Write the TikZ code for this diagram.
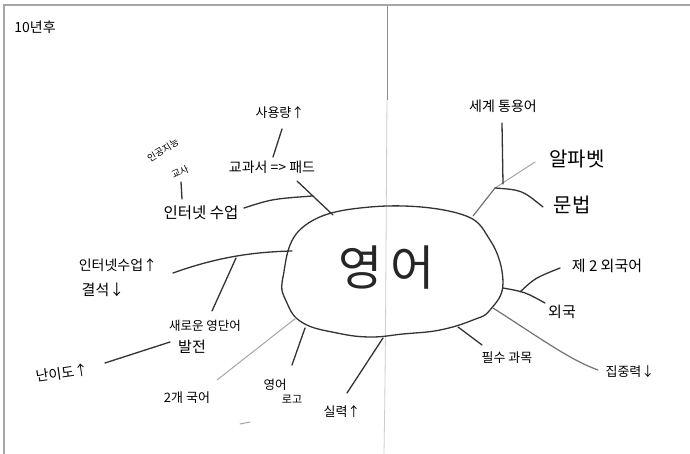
\documentclass[tikz,border=0pt]{standalone}
\usepackage{fontspec}
\setmainfont{Noto Sans CJK KR}
\usetikzlibrary{calc}
\begin{document}
\begin{tikzpicture}[x=1pt,y=-1pt,
  lab/.style={font=\fontsize{14}{16}\selectfont, inner sep=0pt, text=black},
  ink/.style={line width=1.3pt, draw=black!80, line cap=round},
  faint/.style={line width=1pt, draw=black!35, line cap=round},
  mid/.style={line width=1.2pt, draw=black!55, line cap=round},
]
\useasboundingbox (0,0) rectangle (690,454);
\fill[white] (0,0) rectangle (690,454);
% frame
\draw[black!35, line width=2pt] (4,454) -- (4,5) -- (690,5);
% fold line
\draw[black!45, line width=0.8pt] (387,6) -- (387,100);
\draw[black!20, line width=0.8pt] (387,100) .. controls (386,220) and (386,330) .. (384,454);
% central blob
\draw[ink] plot[smooth cycle, tension=0.7] coordinates {(283,277) (303,227) (370,207) (457,213) (490,240) (503,283) (490,310) (473,320) (440,330) (403,334) (370,337) (337,333) (303,323) (287,303)};
\node[font=\fontsize{48}{52}\selectfont, text=black!85] (eng) at (387,268) {영\hspace{8pt}어};

% labels
\node[lab, font=\fontsize{14}{16}\selectfont] (t10) at (35,27) {10년후};
\node[lab, font=\fontsize{13}{15}\selectfont] (sayong) at (280,113) {사용량↑};
\node[lab] (gyo) at (272,167) {교과서 => 패드};
\node[lab, rotate=32, font=\fontsize{9.5}{11}\selectfont] (ai) at (163,150) {인공지능};
\node[lab, rotate=25, font=\fontsize{9.5}{11}\selectfont] (aib) at (180,172) {교사};
\node[lab, font=\fontsize{15.5}{17}\selectfont] (inet) at (201,213) {인터넷 수업};
\node[lab] (inetup) at (118,265) {인터넷수업↑};
\node[lab, font=\fontsize{15}{17}\selectfont] (absent) at (103,290) {결석↓};
\node[lab, font=\fontsize{12.5}{14}\selectfont] (newword) at (205,326) {새로운 영단어};
\node[lab, font=\fontsize{15}{17}\selectfont] (dev) at (192,347) {발전};
\node[lab, rotate=8] (diff) at (62,373) {난이도↑};
\node[lab, font=\fontsize{13}{15}\selectfont] (bi) at (187,398) {2개 국어};
\node[lab, font=\fontsize{12.5}{14}\selectfont] (logoa) at (275,385) {영어};
\node[lab, font=\fontsize{11}{13}\selectfont] (logob) at (292,399) {로고};
\node[lab, font=\fontsize{13}{15}\selectfont] (skill) at (342,412) {실력↑};
\node[lab] (world) at (503,106) {세계 통용어};
\node[lab, font=\fontsize{20}{22}\selectfont] (alpha) at (577,159) {알파벳};
\node[lab, font=\fontsize{20}{22}\selectfont] (gram) at (572,205) {문법};
\node[lab, font=\fontsize{15}{17}\selectfont] (second) at (607,266) {제 2 외국어};
\node[lab, font=\fontsize{15}{17}\selectfont] (foreign) at (562,312) {외국};
\node[lab, font=\fontsize{13}{15}\selectfont] (req) at (507,358) {필수 과목};
\node[lab, font=\fontsize{13}{15}\selectfont] (focus) at (630,372) {집중력↓};

% connector points
\coordinate (b1) at (333,215);
\coordinate (g1) at (297,181);
\coordinate (j1) at ($(g1)!0.44!(b1)$);
\coordinate (i1) at (244,208);
\coordinate (s1) at (282,129);
\coordinate (s2) at (273,157);
\coordinate (a1) at (181,182);
\coordinate (a2) at (182,199);
\coordinate (l1) at (173,273);
\coordinate (l2) at (292,251);
\coordinate (l3) at (236,258);
\coordinate (l4) at (212,311);
\coordinate (d1) at (105,363);
\coordinate (d2) at (170,342);
\coordinate (k1) at (217,380);
\coordinate (k2) at (296,318);
\coordinate (o1) at (305,328);
\coordinate (o2) at (292,365);
\coordinate (r1) at (383,338);
\coordinate (r2) at (347,393);
\coordinate (x1) at (240,424);
\coordinate (x2) at (250,422);
\coordinate (t1) at (473,216);
\coordinate (t2) at (495,188);
\coordinate (t3) at (535,162);
\coordinate (w1) at (502,123);
\coordinate (w2) at (503,184);
\coordinate (m1) at (543,207);
\coordinate (e1) at (520,292);
\coordinate (e2) at (560,268);
\coordinate (f1) at (503,288);
\coordinate (f2) at (545,303);
\coordinate (c1) at (493,308);
\coordinate (c2) at (598,370);
\coordinate (q1) at (458,327);
\coordinate (q2) at (482,345);

% connectors
\draw[ink] (b1) -- (g1);
\draw[ink] (i1) .. controls (272,199) .. (j1);
\draw[ink] (s1) -- (s2);
\draw[ink] (a1) .. controls (182,190) .. (a2);
\draw[ink] (l1) .. controls (215,258) and (250,252) .. (l2);
\draw[ink] (l3) -- (l4);
\draw[ink] (d1) -- (d2);
\draw[faint] (k1) -- (k2);
\draw[ink] (o1) -- (o2);
\draw[ink] (r1) -- (r2);
\draw[faint] (x1) -- (x2);
\draw[mid] (t1) -- (t2);
\draw[faint] (t2) -- (t3);
\draw[ink] (w1) -- (w2);
\draw[ink] (t2) .. controls (522,190) .. (m1);
\draw[ink] (e1) .. controls (535,278) .. (e2);
\draw[ink] (f1) .. controls (525,292) .. (f2);
\draw[mid] (c1) .. controls (540,338) and (570,360) .. (c2);
\draw[ink] (q1) -- (q2);
\end{tikzpicture}
\end{document}
